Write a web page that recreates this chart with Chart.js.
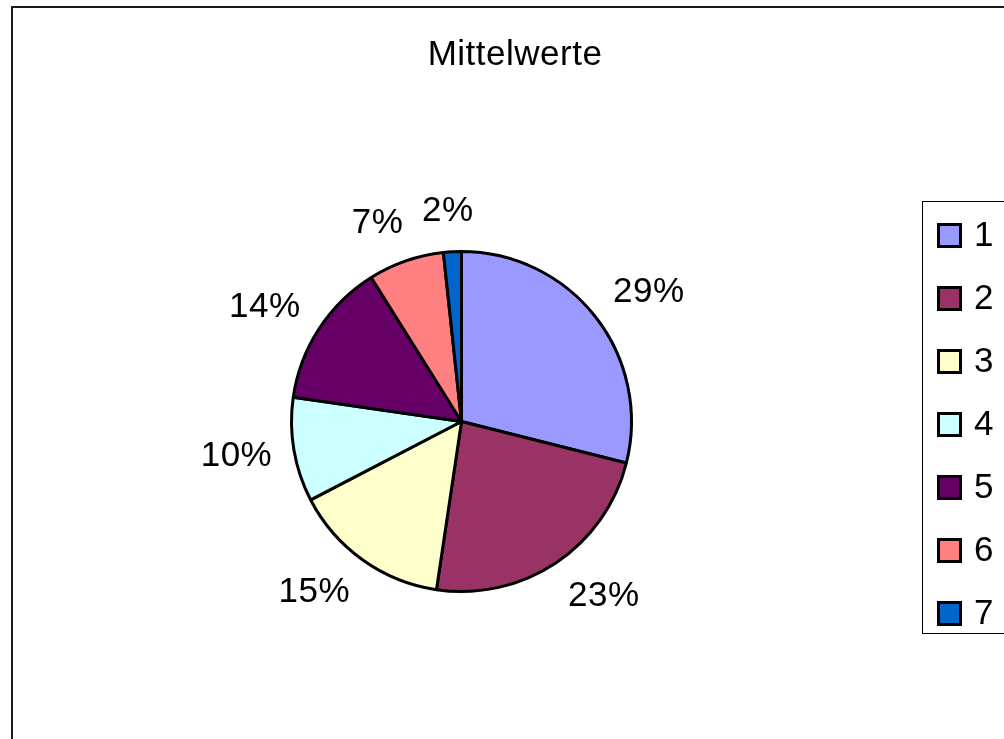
<!DOCTYPE html>
<html>
<head>
<meta charset="utf-8">
<title>Mittelwerte</title>
<script src="https://cdn.jsdelivr.net/npm/chart.js@4/dist/chart.umd.min.js"></script>
<style>
  html, body { margin: 0; padding: 0; background: #fff; }
  #wrap { width: 1004px; height: 739px; }
</style>
</head>
<body>
<div id="wrap"><canvas id="pieChart" width="1004" height="739"></canvas></div>
<script>
// data (share of each category, in %)
const chartTitle = "Mittelwerte";
const categories = ["1", "2", "3", "4", "5", "6", "7"];
const values = [28.9, 23.4, 15.0, 9.9, 13.8, 7.2, 1.7];
const sliceColors = ["#9999FF", "#993366", "#FFFFCC", "#CCFFFF", "#660066", "#FF8080", "#0066CC"];

const FONT = "'Liberation Sans', Arial, sans-serif";

// frame, title, percent labels and legend box
const excelLook = {
  id: "excelLook",
  beforeDraw(chart) {
    const ctx = chart.ctx;
    ctx.save();
    ctx.fillStyle = "#fff";
    ctx.fillRect(0, 0, chart.width, chart.height);
    ctx.strokeStyle = "#1a1a1a";
    ctx.lineWidth = 2;
    ctx.beginPath();
    ctx.moveTo(12, chart.height + 5);
    ctx.lineTo(12, 7);
    ctx.lineTo(chart.width + 5, 7);
    ctx.stroke();
    ctx.restore();
  },
  afterDraw(chart) {
    const ctx = chart.ctx;
    ctx.save();
    ctx.fillStyle = "#000";
    ctx.textBaseline = "middle";

    // title
    ctx.font = "35px " + FONT;
    ctx.letterSpacing = "0.5px";
    ctx.textAlign = "center";
    ctx.fillText(chartTitle, 515, 55);

    // percent labels outside the slices
    const total = values.reduce((a, b) => a + b, 0);
    const meta = chart.getDatasetMeta(0);
    meta.data.forEach((arc, i) => {
      const mid = (arc.startAngle + arc.endAngle) / 2;
      const c = Math.cos(mid), s = Math.sin(mid);
      const pct = Math.round((values[i] / total) * 100) + "%";
      const hw = ctx.measureText(pct).width / 2;
      const push = Math.max(-1, Math.min(1, c * 2.5));
      const dist = arc.outerRadius + 22;
      const x = arc.x + c * dist + hw * push;
      const y = arc.y + s * dist + 18 * s;
      ctx.fillText(pct, x, y);
    });

    // legend box
    ctx.letterSpacing = "0px";
    ctx.strokeStyle = "#000";
    ctx.lineWidth = 1;
    ctx.strokeRect(922.5, 201.5, 100, 432);
    ctx.textAlign = "left";
    categories.forEach((cat, i) => {
      const cy = 235.5 + i * 63;
      ctx.fillStyle = sliceColors[i];
      ctx.fillRect(938.5, cy - 11, 22, 22);
      ctx.lineWidth = 3;
      ctx.strokeRect(938.5, cy - 11, 22, 22);
      ctx.fillStyle = "#000";
      ctx.fillText(cat, 974, cy + 1);
    });
    ctx.restore();
  }
};

new Chart(document.getElementById("pieChart").getContext("2d"), {
  type: "pie",
  data: {
    labels: categories,
    datasets: [
      {
        data: values,
        backgroundColor: sliceColors,
        borderColor: "#000",
        borderWidth: 3,
        hoverBorderWidth: 3,
        hoverOffset: 0,
      },
    ],
  },
  options: {
    responsive: false,
    animation: false,
    events: [],
    layout: {
      padding: { left: 290, right: 371, top: 250, bottom: 146 },
    },
    plugins: {
      legend: { display: false },
      title: { display: false },
      tooltip: { enabled: false },
    },
  },
  plugins: [excelLook],
});
</script>
</body>
</html>
